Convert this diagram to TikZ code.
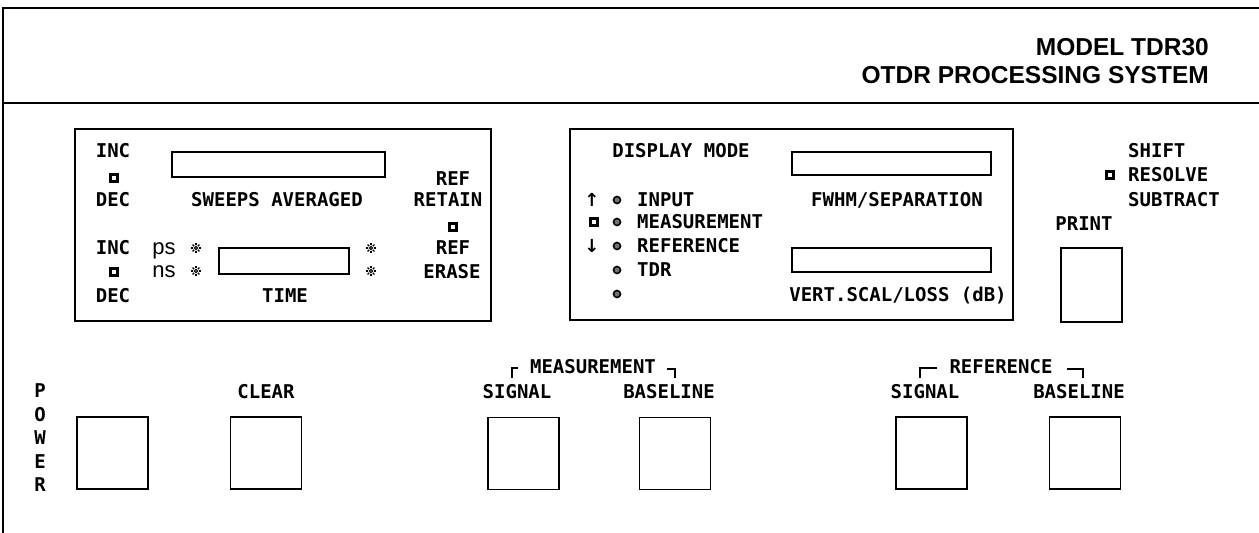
\documentclass[tikz,border=0pt]{standalone}
\usepackage{fontspec}
\setmainfont{Liberation Sans}
\newfontfamily\monofnt{DejaVu Sans Mono}
\newfontfamily\symfnt{DejaVu Sans}
\begin{document}
\begin{tikzpicture}[x=1pt,y=-1pt,
  lbl/.style={font=\monofnt\bfseries\fontsize{19}{19}\selectfont, inner sep=0pt},
  lblw/.style={lbl, anchor=west},
  unit/.style={font=\fontsize{22}{22}\selectfont, inner sep=0pt, anchor=base},
  titletext/.style={font=\bfseries\fontsize{24.5}{26}\selectfont, inner sep=0pt, anchor=base east},
  panel/.style={draw, line width=1.4pt, inner sep=0pt},
  disp/.style={draw, line width=1.3pt, inner sep=0pt},
  btn/.style={draw, line width=1.6pt, inner sep=0pt, minimum width=71pt, minimum height=72pt},
  ind/.style={fill=black, minimum size=10pt, inner sep=0pt,
    path picture={\fill[white] ([shift={(-2.2pt,-1.6pt)}]path picture bounding box.center) rectangle ([shift={(2.2pt,1.6pt)}]path picture bounding box.center);}},
  led/.style={circle, draw, line width=1.6pt, fill=black!55, minimum size=7pt, inner sep=0pt},
  sun/.pic={\draw[line width=1.1pt] (0,0) circle (1.7pt);
    \foreach \a in {0,45,...,315} \draw[line width=1.1pt] (\a:2.6pt) -- (\a:4.9pt);},
  arrowsym/.style={font=\symfnt\bfseries\fontsize{18}{18}\selectfont, inner sep=0pt},
  framestyle/.style={line width=1.6pt},
  bracket/.style={line width=1.3pt}
]
\useasboundingbox (0,0) rectangle (1259,533);

% outer frame
\coordinate (ftl) at (3,8);
\coordinate (ftr) at (1259,8);
\coordinate (fbl) at (3,533);
\coordinate (hl) at (3,103);
\coordinate (hr) at (1259,103);
\draw[framestyle] (ftr) -- (ftl) -- (fbl);
\draw[framestyle] (hl) -- (hr);

% title
\node[titletext] (t1) at (1209,55) {MODEL TDR30};
\node[titletext] (t2) at (1209,83) {OTDR PROCESSING SYSTEM};

% ---------- left panel ----------
\node[panel, minimum width=416pt, minimum height=192pt] (lp) at (283,225) {};
\node[disp, minimum width=213pt, minimum height=25pt] (sweepdisp) at (278.5,164.5) {};
\node[disp, minimum width=130pt, minimum height=26pt] (timedisp) at (284,261) {};

\node[lbl] (inc1) at (113,151) {INC};
\node[ind] (ind1) at (114,178) {};
\node[lbl] (dec1) at (113,200) {DEC};
\node[lbl] (sweeps) at (277,200) {SWEEPS AVERAGED};

\node[lbl] (ref1) at (453,179) {REF};
\node[lbl] (retain) at (448,200) {RETAIN};
\node[ind] (ind2) at (453,227) {};
\node[lbl] (ref2) at (453,248) {REF};
\node[lbl] (erase) at (452,272) {ERASE};

\node[lbl] (inc2) at (113,248) {INC};
\node[ind] (ind3) at (114,272) {};
\node[lbl] (dec2) at (113,296) {DEC};

\node[unit] (ps) at (164,254) {ps};
\node[unit] (ns) at (164,277) {ns};
\pic (s1) at (196,248) {sun};
\pic (s2) at (196,271) {sun};
\pic (s3) at (371,248) {sun};
\pic (s4) at (371,271) {sun};
\node[lbl] (time) at (285,296) {TIME};

% ---------- middle panel ----------
\node[panel, minimum width=443pt, minimum height=191pt] (mp) at (791.5,224.5) {};
\node[disp, minimum width=199pt, minimum height=23pt] (fwhmdisp) at (891.5,163.5) {};
\node[disp, minimum width=199pt, minimum height=24pt] (vertdisp) at (891.5,260) {};

\node[lbl] (dmode) at (681,151) {DISPLAY MODE};
\node[lbl] (fwhm) at (897,200) {FWHM/SEPARATION};
\node[lbl, anchor=base] (vert) at (898,301) {VERT.SCAL/LOSS (dB)};

\node[arrowsym] (up) at (592,200) {↑};
\node[ind] (ind4) at (594,222) {};
\node[arrowsym] (down) at (592,246) {↓};

\node[led] (l1) at (617,200) {};
\node[led] (l2) at (617,222) {};
\node[led] (l3) at (617,246) {};
\node[led] (l4) at (617,270) {};
\node[led] (l5) at (617,294) {};
\node[lblw] (input) at (637,200) {INPUT};
\node[lblw] (meas) at (637,222) {MEASUREMENT};
\node[lblw] (refm) at (637,246) {REFERENCE};
\node[lblw] (tdr) at (637,270) {TDR};

% ---------- right area ----------
\node[lblw] (shift) at (1128,151) {SHIFT};
\node[ind] (ind5) at (1110,175) {};
\node[lblw] (resolve) at (1128,175) {RESOLVE};
\node[lblw] (subtract) at (1128,200) {SUBTRACT};
\node[lbl] (print) at (1084,224) {PRINT};
\node[btn, minimum width=61pt, minimum height=74pt] (printbtn) at (1091.5,285) {};

% ---------- bottom row ----------
\node[lbl] (pP) at (40,391) {P};
\node[lbl] (pO) at (40,414.5) {O};
\node[lbl] (pW) at (40,438) {W};
\node[lbl] (pE) at (40,461.5) {E};
\node[lbl] (pR) at (40,485) {R};
\node[btn] (powerbtn) at (112.5,453) {};

\node[lbl] (clear) at (266,392) {CLEAR};
\node[btn] (clearbtn) at (266,453) {};

\node[lbl] (measlbl) at (593,367) {MEASUREMENT};
\node[lbl] (msig) at (517,392) {SIGNAL};
\node[lbl] (mbase) at (669,392) {BASELINE};
\node[btn] (msigbtn) at (523.5,453.5) {};
\node[btn] (mbasebtn) at (675,453.5) {};

\node[lbl] (reflbl) at (1001,367) {REFERENCE};
\node[lbl] (rsig) at (925,392) {SIGNAL};
\node[lbl] (rbase) at (1079,392) {BASELINE};
\node[btn] (rsigbtn) at (931.5,453) {};
\node[btn] (rbasebtn) at (1085,453) {};

% brackets
\coordinate (mb1) at (512,378); \coordinate (mb2) at (512,368); \coordinate (mb3) at (518,368);
\coordinate (mb4) at (667,369); \coordinate (mb5) at (675,369); \coordinate (mb6) at (675,378);
\draw[bracket] (mb1) -- (mb2) -- (mb3);
\draw[bracket] (mb4) -- (mb5) -- (mb6);
\coordinate (rb1) at (920,378); \coordinate (rb2) at (920,368); \coordinate (rb3) at (937,368);
\coordinate (rb4) at (1067,369); \coordinate (rb5) at (1083,369); \coordinate (rb6) at (1083,378);
\draw[bracket] (rb1) -- (rb2) -- (rb3);
\draw[bracket] (rb4) -- (rb5) -- (rb6);
\end{tikzpicture}
\end{document}
